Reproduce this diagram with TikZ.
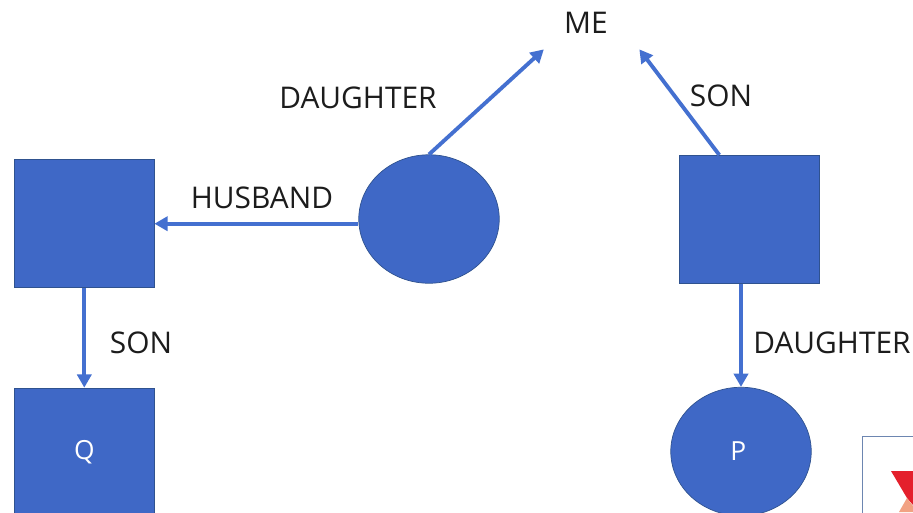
\documentclass[tikz,border=0pt]{standalone}
\usepackage{fontspec}
\setmainfont{Open Sans}
\usetikzlibrary{shapes.geometric, arrows.meta}
\definecolor{ShapeBlue}{HTML}{3F68C6}
\definecolor{LineBlue}{HTML}{4470D0}
\definecolor{EdgeBlue}{HTML}{2F528F}
\definecolor{LabelBlack}{HTML}{1C1C1C}
\definecolor{LogoRed}{HTML}{E4202C}
\definecolor{LogoPeach}{HTML}{F2A283}

\begin{document}
\begin{tikzpicture}[
            x=0.02cm, y=-0.02cm,
            squarebox/.style={rectangle, draw=EdgeBlue, line width=0.4pt, fill=ShapeBlue, minimum width=2.79cm, minimum height=2.56cm, inner sep=0pt, text=white, font=\fontsize{15}{18}\selectfont},
            roundbox/.style={ellipse, draw=EdgeBlue, line width=0.4pt, fill=ShapeBlue, minimum width=2.81cm, minimum height=2.57cm, inner sep=0pt, text=white, font=\fontsize{15}{18}\selectfont},
            label/.style={text=LabelBlack, inner sep=0pt, font=\fontsize{17}{20}\selectfont},
            arrow/.style={-{Triangle[length=7.5pt, width=8pt]}, line width=2.2pt, LineBlue}
        ]
            \clip (0,0) rectangle (913,512);
            \useasboundingbox (0,0) rectangle (913,512);

            % Boxes
            \node[label, minimum width=2.12cm, minimum height=1.04cm] (me) at (586,23) {ME};
            \node[roundbox] (daughter) at (429,219) {};
            \node[squarebox] (husband) at (84.3,223.7) {};
            \node[squarebox] (son) at (749.3,219.3) {};
            \node[squarebox] (q) at (84.3,452) {Q};
            \node[roundbox] (p) at (741,451.5) {P\hspace*{3pt}};

            % Arrows
            \draw[arrow] (daughter.north) -- (me.212);
            \draw[arrow] (son.115.5) -- (me.south east);
            \draw[arrow] (husband.east -| daughter.west) -- (husband.east);
            \draw[arrow] (husband.south -| q.north) -- (q.north);
            \draw[arrow] (son.south -| p.north) -- (p.north);

            % Labels
            \node[label] (daughterlabel) at (358,98) {DAUGHTER};
            \node[label] (sonlabel) at (721,96) {SON};
            \node[label] (husbandlabel) at (262,198) {HUSBAND};
            \node[label] (qsonlabel) at (141,343) {SON};
            \node[label] (pdaughterlabel) at (832,343) {DAUGHTER};

            % Logo
            \node[rectangle, draw=EdgeBlue!70, line width=0.8pt, fill=white, minimum width=2cm, minimum height=2cm, anchor=north west] (logo) at (862,436) {};
            \fill[LogoRed] (891,471) -- (913,471) -- (913,505) -- (907,498) -- cycle;
            \fill[LogoPeach] (907,498) -- (913,506) -- (913,512) -- (899,512) -- cycle;
        \end{tikzpicture}
\end{document}
